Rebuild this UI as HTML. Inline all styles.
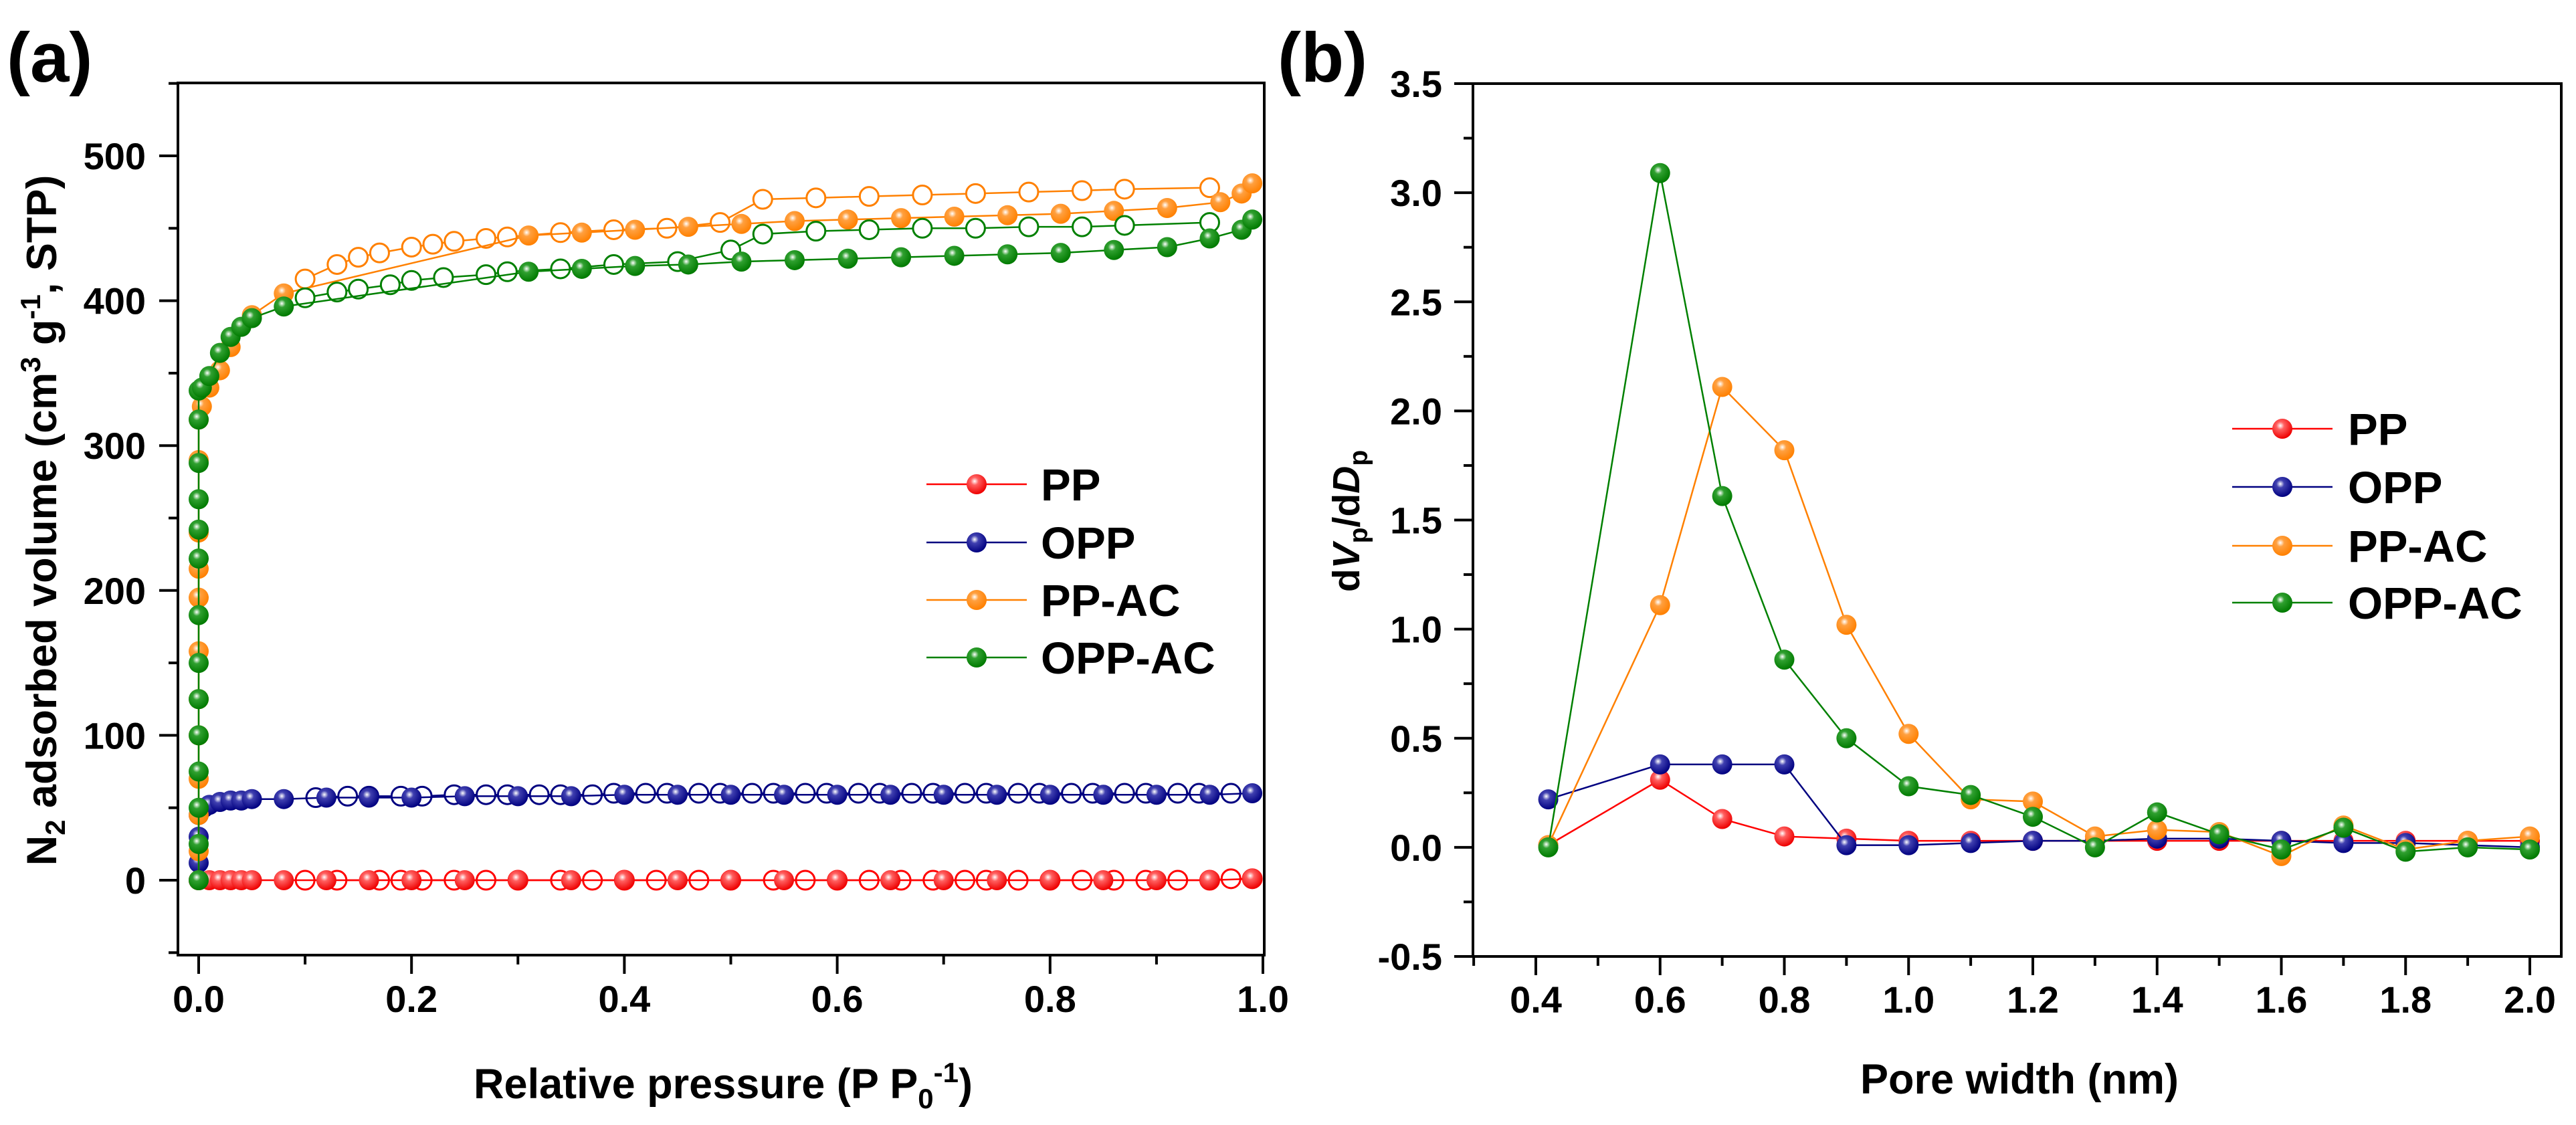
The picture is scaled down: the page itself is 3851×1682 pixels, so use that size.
<!DOCTYPE html>
<html><head><meta charset="utf-8"><style>
html,body{margin:0;padding:0;background:#fff}
svg{display:block}
text{font-family:"Liberation Sans",Arial,sans-serif;font-weight:bold;fill:#000}
</style></head><body>
<svg id="fig" width="3851" height="1682" viewBox="0 0 3851 1682" xmlns="http://www.w3.org/2000/svg">
<defs>
<radialGradient id="g-red" cx="0.4" cy="0.35" r="0.65"><stop offset="0" stop-color="#fff"/><stop offset="0.3" stop-color="#ff6060"/><stop offset="1" stop-color="#ee0000"/></radialGradient>
<radialGradient id="g-blue" cx="0.4" cy="0.35" r="0.65"><stop offset="0" stop-color="#fff"/><stop offset="0.3" stop-color="#4040b0"/><stop offset="1" stop-color="#000080"/></radialGradient>
<radialGradient id="g-orange" cx="0.4" cy="0.35" r="0.65"><stop offset="0" stop-color="#fff"/><stop offset="0.3" stop-color="#ffa040"/><stop offset="1" stop-color="#ff8000"/></radialGradient>
<radialGradient id="g-green" cx="0.4" cy="0.35" r="0.65"><stop offset="0" stop-color="#fff"/><stop offset="0.3" stop-color="#30a030"/><stop offset="1" stop-color="#007a00"/></radialGradient>
</defs>
<text x="10" y="122" font-size="105">(a)</text>
<text x="1910" y="122" font-size="105">(b)</text>
<g id="pa"></g>
<g id="pb"></g>
<text transform="translate(84,778) rotate(-90)" text-anchor="middle" font-size="63">N<tspan font-size="42" dy="13">2</tspan><tspan dy="-13"> adsorbed volume (cm</tspan><tspan font-size="42" dy="-24">3</tspan><tspan dy="24"> g</tspan><tspan font-size="42" dy="-24">-1</tspan><tspan dy="24">, STP)</tspan></text>
<text x="1081" y="1642" text-anchor="middle" font-size="63">Relative pressure (P P<tspan font-size="42" dy="15">0</tspan><tspan font-size="42" dy="-39">-1</tspan><tspan dy="24">)</tspan></text>
<text transform="translate(2032,779) rotate(-90)" text-anchor="middle" font-size="57">d<tspan font-style="italic">V</tspan><tspan font-size="39" dy="12">p</tspan><tspan dy="-12">/d</tspan><tspan font-style="italic">D</tspan><tspan font-size="39" dy="12">p</tspan></text>
<text x="3019" y="1635" text-anchor="middle" font-size="63">Pore width (nm)</text>
</svg>
<script>
// ---- Panel (a) data: isotherms ----
const aXTicks = [0, 0.2, 0.4, 0.6, 0.8, 1.0];
const aXTickLabels = ["0.0", "0.2", "0.4", "0.6", "0.8", "1.0"];
const aYTicks = [0, 100, 200, 300, 400, 500];
const aYTickLabels = ["0", "100", "200", "300", "400", "500"];

const ppAdsX = [0,0,0,0.01,0.02,0.03,0.04,0.05,0.08,0.12,0.16,0.2,0.25,0.3,0.35,0.4,0.45,0.5,0.55,0.6,0.65,0.7,0.75,0.8,0.85,0.9,0.95,0.99];
const ppAdsY = [0,0,0,0,0,0,0,0,0,0,0,0,0,0,0,0,0,0,0,0,0,0,0,0,0,0,0,1];
const ppDesX = [0.99,0.97,0.95,0.92,0.89,0.86,0.83,0.8,0.77,0.74,0.72,0.69,0.66,0.63,0.6,0.57,0.54,0.5,0.47,0.43,0.4,0.37,0.34,0.3,0.27,0.24,0.21,0.19,0.17,0.13,0.1];
const ppDesY = [1,1,0,0,0,0,0,0,0,0,0,0,0,0,0,0,0,0,0,0,0,0,0,0,0,0,0,0,0,0,0];

const oppAdsX = [0,0,0,0,0.005,0.01,0.02,0.03,0.04,0.05,0.08,0.12,0.16,0.2,0.25,0.3,0.35,0.4,0.45,0.5,0.55,0.6,0.65,0.7,0.75,0.8,0.85,0.9,0.95,0.99];
const oppAdsY = [0,12,30,45,50,52,54,55,55,56,56,57,57,57,58,58,58,59,59,59,59,59,59,59,59,59,59,59,59,60];
const oppDesX = [0.97,0.94,0.92,0.89,0.87,0.84,0.82,0.79,0.77,0.74,0.72,0.69,0.67,0.64,0.62,0.59,0.57,0.54,0.52,0.49,0.47,0.44,0.42,0.39,0.37,0.34,0.32,0.29,0.27,0.24,0.21,0.19,0.16,0.14,0.11];
const oppDesY = [60,60,60,60,60,60,60,60,60,60,60,60,60,60,60,60,60,60,60,60,60,60,60,60,59,59,59,59,59,59,58,58,58,58,57];

const ppacAdsX = [0,0,0,0,0,0,0,0,0,0,0,0,0.003,0.01,0.02,0.03,0.05,0.08,0.31,0.36,0.41,0.46,0.51,0.56,0.61,0.66,0.71,0.76,0.81,0.86,0.91,0.96,0.98,0.99];
const ppacAdsY = [0,20,45,70,100,125,158,195,215,240,290,318,327,340,352,368,390,405,445,447,449,451,453,455,456,457,458,459,460,462,464,468,474,481];
const ppacDesX = [0.95,0.87,0.83,0.78,0.73,0.68,0.63,0.58,0.53,0.49,0.44,0.39,0.34,0.29,0.27,0.24,0.22,0.2,0.17,0.15,0.13,0.1];
const ppacDesY = [478,477,476,475,474,473,472,471,470,454,450,449,447,444,443,441,439,437,433,430,425,415];

const oppacAdsX = [0,0,0,0,0,0,0,0,0,0,0,0,0,0,0.003,0.01,0.02,0.03,0.04,0.05,0.08,0.31,0.36,0.41,0.46,0.51,0.56,0.61,0.66,0.71,0.76,0.81,0.86,0.91,0.95,0.98,0.99];
const oppacAdsY = [0,25,50,75,100,125,150,183,222,242,263,288,318,338,340,348,364,375,382,388,396,420,422,424,425,427,428,429,430,431,432,433,435,437,443,449,456];
const oppacDesX = [0.95,0.87,0.83,0.78,0.73,0.68,0.63,0.58,0.53,0.5,0.45,0.39,0.34,0.29,0.27,0.23,0.2,0.18,0.15,0.13,0.1];
const oppacDesY = [454,452,451,451,450,450,449,448,446,435,427,425,422,420,418,416,414,411,408,406,402];

// ---- Panel (b) data: pore size distribution ----
const bX = [0.42,0.6,0.7,0.8,0.9,1.0,1.1,1.2,1.3,1.4,1.5,1.6,1.7,1.8,1.9,2.0];
const bPP = [0.01,0.31,0.13,0.05,0.04,0.03,0.03,0.03,0.03,0.03,0.03,0.03,0.03,0.03,0.03,0.03];
const bOPP = [0.22,0.38,0.38,0.38,0.01,0.01,0.02,0.03,0.03,0.04,0.04,0.03,0.02,0.02,0.01,0.0];
const bPPAC = [0.01,1.11,2.11,1.82,1.02,0.52,0.22,0.21,0.05,0.08,0.07,-0.04,0.1,-0.01,0.03,0.05];
const bOPPAC = [0.0,3.09,1.61,0.86,0.5,0.28,0.24,0.14,0.0,0.16,0.06,-0.01,0.09,-0.02,0.0,-0.01];
const bXTicks = [0.4,0.6,0.8,1.0,1.2,1.4,1.6,1.8,2.0];
const bXTickLabels = ["0.4","0.6","0.8","1.0","1.2","1.4","1.6","1.8","2.0"];
const bYTicks = [-0.5,0,0.5,1.0,1.5,2.0,2.5,3.0,3.5];
const bYTickLabels = ["-0.5","0.0","0.5","1.0","1.5","2.0","2.5","3.0","3.5"];

const NS = "http://www.w3.org/2000/svg";
function mk(tag, attrs, parent){const e=document.createElementNS(NS,tag);for(const k in attrs)e.setAttribute(k,attrs[k]);parent.appendChild(e);return e;}

const colors = {red:"#ff0000", blue:"#000080", orange:"#ff8000", green:"#008000"};

const aL=266,aR=1890,aT=124,aB=1428;
const ax = v => 297 + v*(1888-297);
const ay = v => 1316 - v*(1316-233)/500;
const bL=2202,bR=3829,bT=125,bB=1430;
const bx = v => 2296 + (v-0.4)*(3782-2296)/1.6;
const by = v => 1430 - (v+0.5)*(1430-125)/4;

function frame(g,L,R,T,B,name){
  const r=mk("rect",{x:L,y:T,width:R-L,height:B-T,fill:"none",stroke:"#000","stroke-width":4},g);
  
  
}
const pa=document.getElementById("pa"), pb=document.getElementById("pb");
frame(pa,aL,aR,aT,aB,"plot-frame-a");
frame(pb,bL,bR,bT,bB,"plot-frame-b");

aYTicks.forEach((v,i)=>{
  const t=mk("line",{x1:aL-28,y1:ay(v),x2:aL,y2:ay(v),stroke:"#000","stroke-width":4},pa);
  
  
  const m=mk("line",{x1:aL-14,y1:ay(v+50),x2:aL,y2:ay(v+50),stroke:"#000","stroke-width":4},pa);
  
  
  const l=mk("text",{x:aL-48,y:ay(v)+20,"text-anchor":"end","font-size":56},pa);
  l.textContent=aYTickLabels[i];
  
  
});
const m0=mk("line",{x1:aL-14,y1:ay(-50),x2:aL,y2:ay(-50),stroke:"#000","stroke-width":4},pa);


aXTicks.forEach((v,i)=>{
  const t=mk("line",{x1:ax(v),y1:aB,x2:ax(v),y2:aB+28,stroke:"#000","stroke-width":4},pa);
  
  
  if(v<1){const m=mk("line",{x1:ax(v+0.1),y1:aB,x2:ax(v+0.1),y2:aB+14,stroke:"#000","stroke-width":4},pa);
  
  }
  const l=mk("text",{x:ax(v),y:1513,"text-anchor":"middle","font-size":56},pa);
  l.textContent=aXTickLabels[i];
  
  
});
bYTicks.forEach((v,i)=>{
  const t=mk("line",{x1:bL-28,y1:by(v),x2:bL,y2:by(v),stroke:"#000","stroke-width":4},pb);
  
  
  if(v<3.5){const m=mk("line",{x1:bL-14,y1:by(v+0.25),x2:bL,y2:by(v+0.25),stroke:"#000","stroke-width":4},pb);
  
  }
  const l=mk("text",{x:bL-46,y:by(v)+20,"text-anchor":"end","font-size":56},pb);
  l.textContent=bYTickLabels[i];
  
  
});
[0.3].concat(bXTicks.map(v=>v+0.1)).forEach(v=>{
  if(v>2.05)return;
  const m=mk("line",{x1:bx(v),y1:bB,x2:bx(v),y2:bB+14,stroke:"#000","stroke-width":4},pb);
  
  
});
bXTicks.forEach((v,i)=>{
  const t=mk("line",{x1:bx(v),y1:bB,x2:bx(v),y2:bB+28,stroke:"#000","stroke-width":4},pb);
  
  
  const l=mk("text",{x:bx(v),y:1514,"text-anchor":"middle","font-size":56},pb);
  l.textContent=bXTickLabels[i];
  
  
});

function series(g,xs,ys,fx,fy,col,open,name){
  const sg=mk("g",{},g);
  
  
  const pts=xs.map((x,i)=>fx(x)+","+fy(ys[i])).join(" ");
  const pl=mk("polyline",{points:pts,fill:"none",stroke:colors[col],"stroke-width":2.5},sg);
  
  
  xs.forEach((x,i)=>{
    let c;
    if(open){
      c=mk("circle",{cx:fx(x),cy:fy(ys[i]),r:14,fill:"#fff",stroke:colors[col],"stroke-width":3},sg);
    } else {
      c=mk("circle",{cx:fx(x),cy:fy(ys[i]),r:15,fill:"url(#g-"+col+")"},sg);
    }
    
    
  });
}
series(pa,ppDesX,ppDesY,ax,ay,"red",true,"pp-desorption");
series(pa,ppAdsX,ppAdsY,ax,ay,"red",false,"pp-adsorption");
series(pa,oppDesX,oppDesY,ax,ay,"blue",true,"opp-desorption");
series(pa,oppAdsX,oppAdsY,ax,ay,"blue",false,"opp-adsorption");
series(pa,ppacDesX,ppacDesY,ax,ay,"orange",true,"ppac-desorption");
series(pa,ppacAdsX,ppacAdsY,ax,ay,"orange",false,"ppac-adsorption");
series(pa,oppacDesX,oppacDesY,ax,ay,"green",true,"oppac-desorption");
series(pa,oppacAdsX,oppacAdsY,ax,ay,"green",false,"oppac-adsorption");

series(pb,bX,bPP,bx,by,"red",false,"pp-psd");
series(pb,bX,bOPP,bx,by,"blue",false,"opp-psd");
series(pb,bX,bPPAC,bx,by,"orange",false,"ppac-psd");
series(pb,bX,bOPPAC,bx,by,"green",false,"oppac-psd");

const legendNames=["PP","OPP","PP-AC","OPP-AC"];
const legendCols=["red","blue","orange","green"];
function legend(g,x0,x1,xm,xt,ys,name){
  const lg=mk("g",{},g);
  
  
  legendNames.forEach((n,i)=>{
    const e=mk("g",{},lg);
    
    
    mk("line",{x1:x0,y1:ys[i],x2:x1,y2:ys[i],stroke:colors[legendCols[i]],"stroke-width":2.5},e);
    mk("circle",{cx:xm,cy:ys[i],r:15,fill:"url(#g-"+legendCols[i]+")"},e);
    const t=mk("text",{x:xt,y:ys[i]+24,"font-size":67},e);
    t.textContent=n;
  });
}
legend(pa,1385,1535,1460,1556,[724,811,897,983],"legend-a");
legend(pb,3337,3487,3412,3510,[641,728,816,901],"legend-b");
</script>
</body></html>
